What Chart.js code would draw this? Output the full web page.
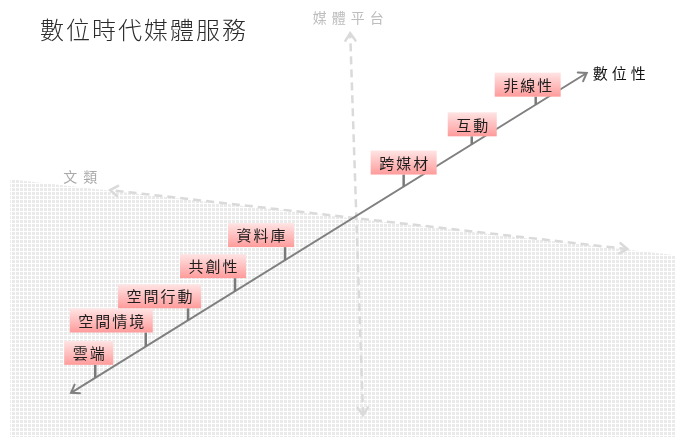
<!DOCTYPE html>
<html>
<head>
<meta charset="utf-8">
<script src="https://cdn.jsdelivr.net/npm/chart.js@4.4.1/dist/chart.umd.min.js"></script>
<style>
  html, body { margin: 0; background: #fff; }
  canvas { display: block; }
</style>
</head>
<body>
<canvas id="diagram" width="676" height="437"></canvas>
<script>
const title = '數位時代媒體服務';
const categories = ['雲端', '空間情境', '空間行動', '共創性', '資料庫', '跨媒材', '互動', '非線性'];
// where each item sits along the 數位性 axis (0 = tail, 100 = arrow tip)
const digitalLevel = [4.7, 14.5, 22.7, 31.8, 41.5, 64.5, 77.7, 90.1];
const axisNames = ['數位性', '媒體平台', '文類'];
// axis ends in diagram units (0..100 both ways)
const digitalAxis = [{x: 10.5, y: 10.1}, {x: 86.8, y: 83.3}];
const platformAxis = [{x: 53.7, y: 5.0}, {x: 51.8, y: 92.4}];
const genreAxis = [{x: 92.8, y: 43.0}, {x: 16.3, y: 56.5}];
const genreEdge = [{x: 1.5, y: 59.0}, {x: 100, y: 41.6}];

// label box placement (pixels, relative to the stem)
const boxShift = [-31, -76, -70, -55, -57, -33, -24, -41];
const stemLen = [13, 14, 12, 13, 13, 12, 8, 8];

const anchors = digitalLevel.map(t => ({
  x: digitalAxis[0].x + (digitalAxis[1].x - digitalAxis[0].x) * t / 100,
  y: digitalAxis[0].y + (digitalAxis[1].y - digitalAxis[0].y) * t / 100
}));

function meshPattern() {
  const c = document.createElement('canvas');
  c.width = 4; c.height = 4;
  const g = c.getContext('2d');
  g.fillStyle = '#ffffff';
  g.fillRect(0, 0, 4, 4);
  g.fillStyle = '#eaeaea';
  g.fillRect(0, 0, 3, 3);
  return g.createPattern(c, 'repeat');
}

function spaced(ctx, text, x, y, size, gap, align) {
  const chars = [...text];
  const w = chars.length * size + (chars.length - 1) * gap;
  let left = x;
  if (align === 'center') left = x - w / 2;
  if (align === 'right') left = x - w;
  ctx.textAlign = 'left';
  chars.forEach((ch, i) => {
    ctx.fillText(ch, left + i * (size + gap), y);
  });
  return w;
}

function arrowHead(ctx, from, to, color, width) {
  const a = Math.atan2(to.y - from.y, to.x - from.x);
  const len = 9;
  ctx.save();
  ctx.strokeStyle = color;
  ctx.lineWidth = width;
  ctx.setLineDash([]);
  ctx.lineCap = 'round';
  ctx.beginPath();
  ctx.moveTo(to.x - len * Math.cos(a - 0.6), to.y - len * Math.sin(a - 0.6));
  ctx.lineTo(to.x, to.y);
  ctx.lineTo(to.x - len * Math.cos(a + 0.6), to.y - len * Math.sin(a + 0.6));
  ctx.stroke();
  ctx.restore();
}

const diagramPlugin = {
  id: 'diagram',
  afterDatasetsDraw(chart) {
    const ctx = chart.ctx;
    ctx.save();
    ctx.textBaseline = 'middle';

    // title
    ctx.fillStyle = '#2b2b2b';
    ctx.font = '300 24px "Noto Sans CJK TC"';
    spaced(ctx, title, 40, 30, 24, 2, 'left');

    // arrows and axis names
    chart.data.datasets.forEach((ds, i) => {
      if (!ds.arrow) return;
      const pts = chart.getDatasetMeta(i).data;
      arrowHead(ctx, pts[1], pts[0], ds.borderColor, ds.arrowWidth);
      arrowHead(ctx, pts[0], pts[1], ds.borderColor, ds.arrowWidth);
      const n = ds.nameAt;
      ctx.fillStyle = n.color;
      ctx.font = n.size + 'px "Noto Sans CJK TC"';
      spaced(ctx, ds.label, pts[1].x + n.dx, pts[1].y + n.dy, n.size, n.gap, n.align);
    });

    // item stems and boxes
    const pts = chart.getDatasetMeta(chart.data.datasets.findIndex(d => d.items)).data;
    ctx.font = '15px "Noto Sans CJK TC"';
    categories.forEach((name, i) => {
      const p = pts[i];
      const bottom = p.y - stemLen[i];
      ctx.strokeStyle = '#7a7a7a';
      ctx.lineWidth = 2.5;
      ctx.beginPath();
      ctx.moveTo(p.x, p.y);
      ctx.lineTo(p.x, bottom);
      ctx.stroke();

      const n = [...name].length;
      const w = n * 15 + (n - 1) * 2 + 17;
      const h = 24;
      const left = p.x + boxShift[i];
      const top = bottom - h;
      const grad = ctx.createLinearGradient(0, top, 0, bottom);
      grad.addColorStop(0, '#ffe4e4');
      grad.addColorStop(1, '#ff9b9b');
      ctx.fillStyle = grad;
      ctx.fillRect(left, top, w, h);
      ctx.fillStyle = '#1e1e1e';
      spaced(ctx, name, left + w / 2, top + h / 2 + 0.5, 15, 2, 'center');
    });
    ctx.restore();
  }
};

new Chart(document.getElementById('diagram'), {
  type: 'scatter',
  data: {
    datasets: [
      {
        items: true,
        data: anchors,
        pointRadius: 0,
        showLine: false,
        order: 0
      },
      {
        label: axisNames[0],
        arrow: true,
        arrowWidth: 2,
        nameAt: {dx: 6, dy: 0, size: 15, gap: 4, align: 'left', color: '#111'},
        data: digitalAxis,
        showLine: true,
        borderColor: '#808080',
        borderWidth: 2,
        pointRadius: 0,
        order: 1
      },
      {
        label: axisNames[1],
        arrow: true,
        arrowWidth: 2.5,
        nameAt: {dx: -2, dy: -16, size: 14, gap: 5, align: 'center', color: '#bdbdbd'},
        data: platformAxis,
        showLine: true,
        borderColor: '#dadada',
        borderWidth: 2.5,
        borderDash: [8, 5],
        pointRadius: 0,
        order: 2
      },
      {
        label: axisNames[2],
        arrow: true,
        arrowWidth: 2.5,
        nameAt: {dx: -30, dy: -13, size: 14, gap: 6, align: 'center', color: '#a9a9a9'},
        data: genreAxis,
        showLine: true,
        borderColor: '#dadada',
        borderWidth: 2.5,
        borderDash: [8, 5],
        pointRadius: 0,
        order: 2
      },
      {
        data: genreEdge,
        showLine: true,
        fill: 'start',
        backgroundColor: meshPattern(),
        borderWidth: 0,
        pointRadius: 0,
        order: 3
      }
    ]
  },
  options: {
    responsive: false,
    animation: false,
    devicePixelRatio: 1,
    layout: {padding: 0},
    scales: {
      x: {type: 'linear', min: 0, max: 100, display: false},
      y: {type: 'linear', min: 0, max: 100, display: false}
    },
    plugins: {
      legend: {display: false},
      tooltip: {enabled: false}
    }
  },
  plugins: [diagramPlugin]
});
</script>
</body>
</html>
